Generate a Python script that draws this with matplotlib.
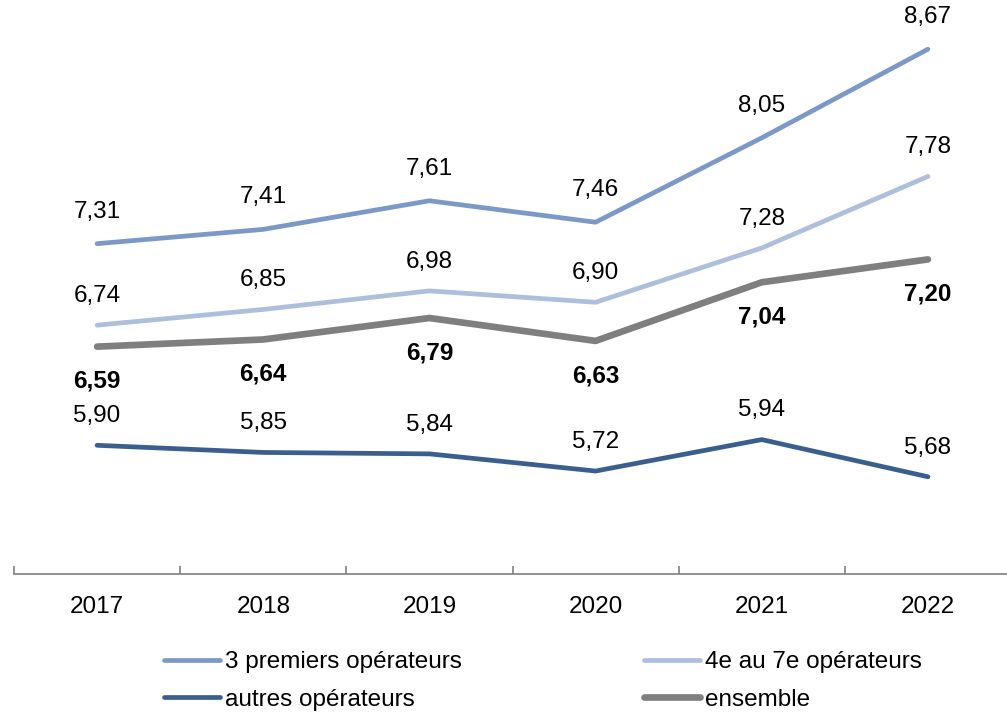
import matplotlib.pyplot as plt
from matplotlib.lines import Line2D

plt.rcParams['font.family'] = ['Liberation Sans', 'DejaVu Sans']

years = ["2017", "2018", "2019", "2020", "2021", "2022"]
top3 = [7.31, 7.41, 7.61, 7.46, 8.05, 8.67]
mid = [6.74, 6.85, 6.98, 6.90, 7.28, 7.78]
others = [5.90, 5.85, 5.84, 5.72, 5.94, 5.68]
overall = [6.59, 6.64, 6.79, 6.63, 7.04, 7.20]

series = [
    # label, values, colour, width, label offset (pt), bold
    ("3 premiers opérateurs", top3, "#7b98c6", 3.4, 23, False),
    ("4e au 7e opérateurs", mid, "#adbfdb", 3.4, 21, False),
    ("autres opérateurs", others, "#3a5f8f", 3.4, 21, False),
    ("ensemble", overall, "#7f7f7f", 4.8, -25, True),
]

FS = 17.5

fig = plt.figure(figsize=(10.07, 7.12), dpi=100)
ax = fig.add_axes([14 / 1007, 1 - 574 / 712, 997 / 1007, 572 / 712])

x = list(range(len(years)))
handles = {}
for name, vals, col, lw, off, bold in series:
    ln, = ax.plot(x, vals, color=col, lw=lw, solid_capstyle="round", zorder=3)
    handles[name] = ln
    for xi, v in zip(x, vals):
        ax.annotate(f"{v:.2f}".replace(".", ","), (xi, v), xytext=(0, off),
                    textcoords="offset points", ha="center", va="center",
                    fontsize=FS, fontweight="bold" if bold else "normal")

ax.set_xlim(-0.5, len(years) - 0.5)
ax.set_ylim(5, 9)
for s in ["top", "left", "right"]:
    ax.spines[s].set_visible(False)
ax.spines["bottom"].set_color("#808080")
ax.spines["bottom"].set_linewidth(1.2)
ax.set_yticks([])
ax.set_xticks([i - 0.5 for i in range(len(years) + 1)])
ax.set_xticklabels([])
ax.tick_params(axis="x", which="major", direction="in", length=6, width=1.2, color="#808080")
ax.set_xticks(x, minor=True)
ax.set_xticklabels(years, minor=True, fontsize=FS)
ax.tick_params(axis="x", which="minor", length=0, pad=16)

order = ["3 premiers opérateurs", "autres opérateurs", "4e au 7e opérateurs", "ensemble"]
leg_handles = [Line2D([], [], color=handles[n].get_color(), lw=handles[n].get_linewidth(),
                      solid_capstyle="round") for n in order]
fig.legend(leg_handles, order, ncol=2, loc="center", bbox_to_anchor=(543 / 1007, 1 - 681 / 712),
           frameon=False, fontsize=FS, handlelength=2.3, handletextpad=0.2,
           columnspacing=7.5, labelspacing=0.65, borderpad=0)

fig.savefig("out.png", dpi=100)
